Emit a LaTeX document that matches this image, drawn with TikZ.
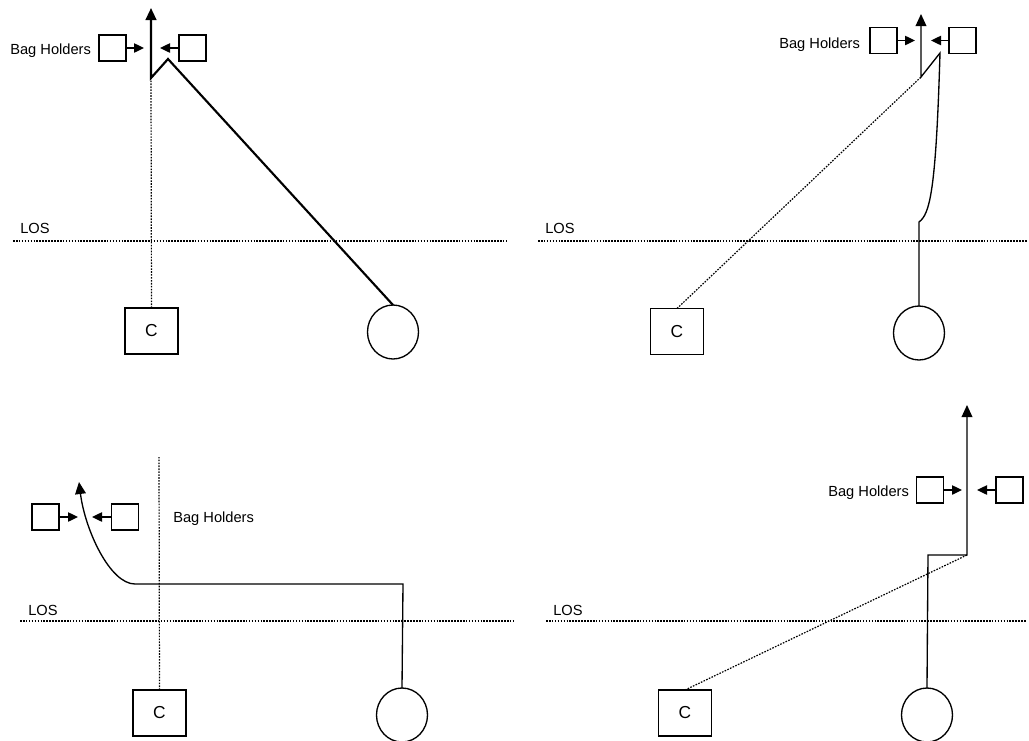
\documentclass[tikz,border=0pt]{standalone}
\usepackage{fontspec}
\setmainfont{Liberation Sans}
\usetikzlibrary{arrows.meta,shapes.geometric}
\begin{document}
\begin{tikzpicture}[x=0.75pt,y=-0.75pt,
  sbox/.style={draw,line width=1pt,minimum width=20.25pt,minimum height=19.5pt,inner sep=0pt,outer sep=0pt},
  cbox/.style={draw,line width=1pt,minimum width=39.75pt,minimum height=34.5pt,inner sep=0pt,outer sep=0pt,font=\fontsize{13}{15}\selectfont},
  player/.style={draw,ellipse,line width=1pt,minimum width=38.25pt,minimum height=40.5pt,inner sep=0pt,outer sep=0pt},
  lbl/.style={anchor=base west,inner sep=0pt,font=\fontsize{11}{13}\selectfont},
  losline/.style={line width=0.9pt,dash pattern=on 1.2pt off 1pt},
  sight/.style={line width=0.9pt,dash pattern=on 1.2pt off 1pt},
  route/.style={line width=1pt,line join=miter},
  thickroute/.style={line width=1.6pt,line join=miter},
  harrow/.style={line width=1pt,-{Triangle[length=7.5pt,width=7pt]}},
  bigtip/.style={-{Triangle[length=9pt,width=8pt]}}
]
\useasboundingbox[fill=white] (0,0) rectangle (1029,740);

% ================= Panel 1 =================
\node[lbl] (bh1) at (10,54) {Bag Holders};
\node[sbox] (l1) at (112.5,48) {};
\node[sbox] (r1) at (192.5,48) {};
\coordinate (l1e) at (144,48);
\coordinate (r1e) at (160,48);
\draw[harrow] (l1.east) -- (l1e);
\draw[harrow] (r1.west) -- (r1e);
\node[lbl] (los1) at (20,233) {LOS};
\coordinate (los1a) at (13,241);
\coordinate (los1b) at (507,241);
\draw[losline] (los1a) -- (los1b);
\node[cbox] (c1) at (151.5,331) {C};
\node[player] (o1) at (393,332) {};
\coordinate (p1a) at (168,59);
\coordinate (p1b) at (151,78);
\coordinate (p1c) at (151,8);
\draw[sight] (c1.north) -- (p1b);
\draw[thickroute,bigtip] (o1.north) -- (p1a) -- (p1b) -- (p1c);

% ================= Panel 2 =================
\node[lbl] (bh2) at (779,48) {Bag Holders};
\node[sbox] (l2) at (883.5,40.5) {};
\node[sbox] (r2) at (962.5,40.5) {};
\coordinate (l2e) at (915,40.5);
\coordinate (r2e) at (931,40.5);
\draw[harrow] (l2.east) -- (l2e);
\draw[harrow] (r2.west) -- (r2e);
\node[lbl] (los2) at (545,233) {LOS};
\coordinate (los2a) at (538,241);
\coordinate (los2b) at (1027,241);
\draw[losline] (los2a) -- (los2b);
\node[cbox] (c2) at (677,331.5) {C};
\node[player] (o2) at (919,333) {};
\coordinate (p2a) at (919,222);
\coordinate (p2b) at (940,53);
\coordinate (p2c) at (921,77);
\coordinate (p2d) at (921,14);
\draw[sight] (c2.north) -- (p2c);
\draw[route,bigtip] (o2.north) -- (p2a) .. controls (930,214) and (936,190) .. (p2b) -- (p2c) -- (p2d);

% ================= Panel 3 =================
\node[lbl] (bh3) at (173,522) {Bag Holders};
\node[sbox] (l3) at (45.5,517) {};
\node[sbox] (r3) at (125,517) {};
\coordinate (l3e) at (78,517);
\coordinate (r3e) at (92,517);
\draw[harrow] (l3.east) -- (l3e);
\draw[harrow] (r3.west) -- (r3e);
\node[lbl] (los3) at (28,615) {LOS};
\coordinate (los3a) at (20,621);
\coordinate (los3b) at (513,621);
\draw[losline] (los3a) -- (los3b);
\node[cbox] (c3) at (159.5,713) {C};
\node[player] (o3) at (402,715) {};
\coordinate (p3top) at (159,457);
\coordinate (p3a) at (403,584);
\coordinate (p3b) at (135,584);
\coordinate (p3c) at (79,482);
\draw[sight] (c3.north) -- (p3top);
\draw[route,bigtip] (o3.north) -- (p3a) -- (p3b) .. controls (110,584) and (85,530) .. (p3c);

% ================= Panel 4 =================
\node[lbl] (bh4) at (828,496) {Bag Holders};
\node[sbox] (l4) at (930,490) {};
\node[sbox] (r4) at (1009.5,490) {};
\coordinate (l4e) at (962,490);
\coordinate (r4e) at (977,490);
\draw[harrow] (l4.east) -- (l4e);
\draw[harrow] (r4.west) -- (r4e);
\node[lbl] (los4) at (553,615) {LOS};
\coordinate (los4a) at (546,621);
\coordinate (los4b) at (1027,621);
\draw[losline] (los4a) -- (los4b);
\node[cbox] (c4) at (685,713) {C};
\node[player] (o4) at (927,715) {};
\coordinate (p4a) at (928,555);
\coordinate (p4b) at (967,555);
\coordinate (p4c) at (967,405);
\draw[sight] (c4.north) -- (p4b);
\draw[route,bigtip] (o4.north) -- (p4a) -- (p4b) -- (p4c);
\end{tikzpicture}
\end{document}
